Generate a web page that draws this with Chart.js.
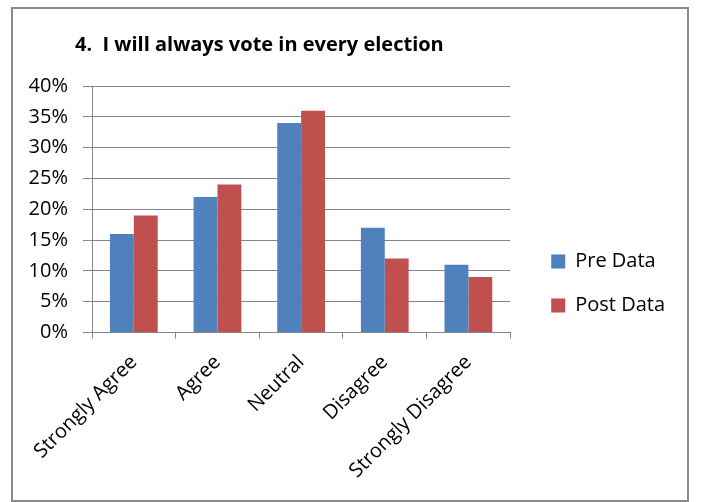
<!DOCTYPE html>
<html>
<head>
<meta charset="utf-8">
<script src="https://cdn.jsdelivr.net/npm/chart.js@4"></script>
<style>
  body { margin: 0; background: #fff; }
  #wrap { position: relative; width: 701px; height: 502px; }
  #frame { position: absolute; left: 11px; top: 7px; width: 674px; height: 491px; border: 2px solid #8a8a8a; pointer-events: none; }
  #title { position: absolute; left: 75px; top: 34px; font: bold 20px "Open Sans", sans-serif; line-height: 20px; color: #000; white-space: pre; }
</style>
</head>
<body>
<div id="wrap">
  <canvas id="chart" width="701" height="502"></canvas>
  <div id="frame"></div>
  <div id="title">4.  I will always vote in every election</div>
</div>
<script>
var categories = ['Strongly Agree', 'Agree', 'Neutral', 'Disagree', 'Strongly Disagree'];
var preData = [16, 22, 34, 17, 11];
var postData = [19, 24, 36, 12, 9];
var yMax = 40;
var yStep = 5;

var gridColor = '#868686';
var font = { family: '"Open Sans", sans-serif', size: 20 };

// nudge the legend down a little, the way Excel places it
var legendShift = {
    id: 'legendShift',
    afterLayout: function (chart) {
        chart.legend.top += 7;
        chart.legend.bottom += 7;
    }
};

var ctx = document.getElementById('chart').getContext('2d');
var chart = new Chart(ctx, {
    type: 'bar',
    data: {
        labels: categories,
        datasets: [{
            label: 'Pre Data',
            data: preData,
            backgroundColor: '#4f81bd',
            categoryPercentage: 0.571,
            barPercentage: 1
        }, {
            label: 'Post Data',
            data: postData,
            backgroundColor: '#c0504d',
            categoryPercentage: 0.571,
            barPercentage: 1
        }]
    },
    options: {
        responsive: false,
        animation: false,
        layout: { padding: { left: 12, top: 86, right: 26, bottom: 7 } },
        plugins: {
            title: { display: false },
            tooltip: { enabled: false },
            legend: {
                position: 'right',
                align: 'end',
                fullSize: false,
                maxWidth: 200,
                labels: {
                    boxWidth: 14,
                    boxHeight: 14,
                    padding: 24,
                    color: '#000',
                    font: font
                }
            }
        },
        scales: {
            x: {
                grid: { drawOnChartArea: false, tickLength: 6, color: gridColor },
                border: { color: gridColor },
                ticks: {
                    autoSkip: false,
                    minRotation: 45,
                    maxRotation: 45,
                    padding: 12,
                    color: '#000',
                    font: font
                }
            },
            y: {
                min: 0,
                max: yMax,
                afterFit: function (s) { s.width = 80; },
                grid: { color: gridColor, tickLength: 9 },
                border: { color: gridColor },
                ticks: {
                    stepSize: yStep,
                    padding: 15,
                    color: '#000',
                    font: font,
                    callback: function (v) { return v + '%'; }
                }
            },
            gap: {
                position: 'right',
                grid: { display: false },
                border: { display: false },
                ticks: { display: false },
                afterFit: function (s) { s.width = 17; }
            }
        }
    },
    plugins: [legendShift]
});
</script>
</body>
</html>
